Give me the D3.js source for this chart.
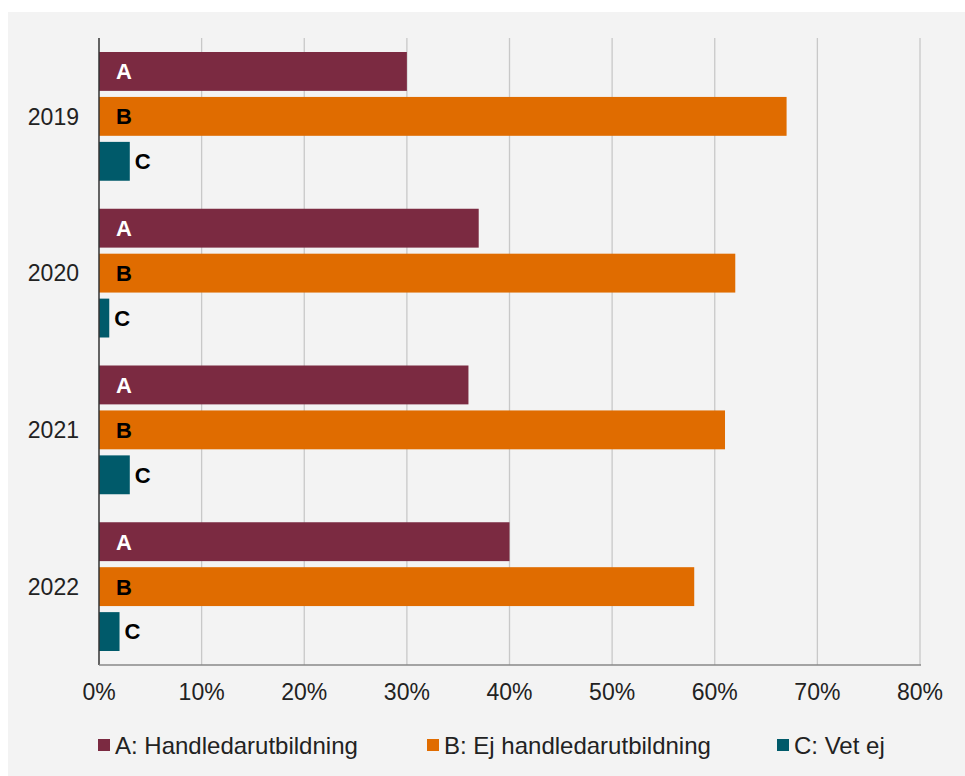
<!DOCTYPE html>
<html><head><meta charset="utf-8">
<script src="https://cdn.jsdelivr.net/npm/d3@7"></script>
<style>body{margin:0;background:#fff}svg{display:block;font-family:"Liberation Sans",Arial,sans-serif}</style>
</head><body><svg id="c" width="965" height="776"></svg>
<script>
const years = ["2019","2020","2021","2022"];
const seriesKeys = ["A","B","C"];
const seriesNames = ["A: Handledarutbildning","B: Ej handledarutbildning","C: Vet ej"];
const colors = ["#7b2a41","#e06c00","#005a6a"];
const valuesA = [30,37,36,40];
const valuesB = [67,62,61,58];
const valuesC = [3,1,3,2];
const xTicks = [0,10,20,30,40,50,60,70,80];

const svg = d3.select("#c");
svg.append("rect").attr("x",8).attr("y",12).attr("width",957).attr("height",764).attr("fill","#f3f3f3");

const m = {l:99, r:920, t:38, b:665};
const x = d3.scaleLinear().domain([0,80]).range([m.l,m.r]);
const y0 = d3.scaleBand().domain(years).range([m.t,m.b]).paddingInner(0).paddingOuter(0);
const y1 = d3.scaleBand().domain(seriesKeys).range([14, y0.bandwidth()-14]).paddingInner(0.135).paddingOuter(0);

// gridlines
svg.append("g").selectAll("line").data(xTicks.slice(1)).join("line")
  .attr("x1",d=>x(d)).attr("x2",d=>x(d)).attr("y1",m.t).attr("y2",m.b)
  .attr("stroke","#c8c8c8").attr("stroke-width",1.3);

const data = years.map((yr,i)=>({year:yr, vals:[valuesA[i],valuesB[i],valuesC[i]]}));
const g = svg.append("g").selectAll("g").data(data).join("g")
  .attr("transform",d=>`translate(0,${y0(d.year)})`);
g.selectAll("rect").data(d=>d.vals.map((v,j)=>({v,k:seriesKeys[j],j}))).join("rect")
  .attr("x",x(0)).attr("y",d=>y1(d.k)).attr("width",d=>x(d.v)-x(0)).attr("height",y1.bandwidth())
  .attr("fill",d=>colors[d.j]);
g.selectAll("text").data(d=>d.vals.map((v,j)=>({v,k:seriesKeys[j],j}))).join("text")
  .attr("x",d=>d.j===2 ? x(d.v)+5 : x(0)+17)
  .attr("y",d=>y1(d.k)+y1.bandwidth()/2).attr("dy","0.36em")
  .attr("font-size",22).attr("font-weight","bold")
  .attr("fill",d=>d.j===0?"#fff":"#000").text(d=>d.k);

// axes
svg.append("line").attr("x1",m.l).attr("x2",m.l).attr("y1",m.t).attr("y2",m.b).attr("stroke","#333").attr("stroke-width",1.5);
svg.append("line").attr("x1",m.l).attr("x2",m.r+1).attr("y1",m.b).attr("y2",m.b).attr("stroke","#888").attr("stroke-width",1.3);

svg.append("g").selectAll("text").data(xTicks).join("text")
  .attr("x",d=>x(d)).attr("y",692).attr("dy","0.36em").attr("text-anchor","middle")
  .attr("font-size",23).attr("fill","#222").text(d=>d+"%");

svg.append("g").selectAll("text").data(years).join("text")
  .attr("x",79).attr("y",d=>y0(d)+y0.bandwidth()/2).attr("dy","0.36em").attr("text-anchor","end")
  .attr("font-size",23).attr("fill","#222").text(d=>d);

// legend
const legX = [98,427,777];
const leg = svg.append("g").selectAll("g").data(seriesNames).join("g")
  .attr("transform",(d,i)=>`translate(${legX[i]},745)`);
leg.append("rect").attr("x",0).attr("y",-6).attr("width",12).attr("height",12).attr("fill",(d,i)=>colors[i]);
leg.append("text").attr("x",17).attr("dy","0.36em").attr("font-size",24).attr("fill","#222").text(d=>d);
</script></body></html>
